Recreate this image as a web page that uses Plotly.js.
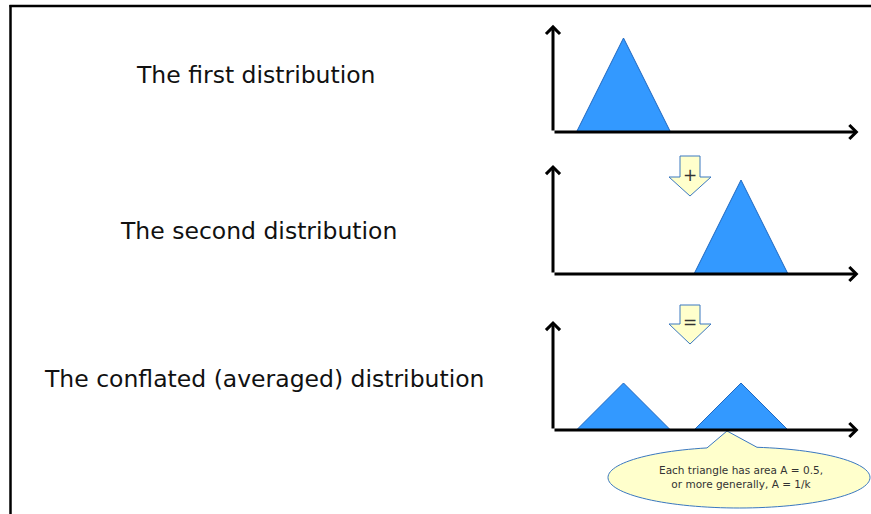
<!DOCTYPE html>
<html>
<head>
<meta charset="utf-8">
<script src="https://cdn.plot.ly/plotly-3.0.1.min.js"></script>
<style>html,body{margin:0;padding:0;background:#fff;}#chart{width:871px;height:514px;}</style>
</head>
<body>
<div id="chart"></div>
<script>
// ---- data ----
const panelLabels = ["The first distribution", "The second distribution", "The conflated (averaged) distribution"];
const operatorLabels = ["+", "="];
const calloutText = ["Each triangle has area A = 0.5,", "or more generally, A = 1/k"];

const dist1X = [0.5, 1.5, 2.5];
const dist1Y = [0, 1, 0];
const dist2X = [3, 4, 5];
const dist2Y = [0, 1, 0];
const conflLeftX = [0.5, 1.5, 2.5];
const conflLeftY = [0, 0.5, 0];
const conflRightX = [3, 4, 5];
const conflRightY = [0, 0.5, 0];

const axisXEnd = 6.5;
const axisYEnds = [1.14, 1.16, 1.16];

// ---- geometry helpers (page pixels -> paper) ----
const W = 871, H = 514;
const px = x => x / W;
const py = y => 1 - y / H;

const FILL = '#3399FF';
const EDGE = '#1F68C0';

function tri(x, y, xa, ya) {
  return {x: x.concat([x[0]]), y: y.concat([y[0]]), xaxis: xa, yaxis: ya, mode: 'lines', fill: 'toself',
    fillcolor: FILL, line: {color: EDGE, width: 1}, hoverinfo: 'skip', showlegend: false};
}

const traces = [
  tri(dist1X, dist1Y, 'x', 'y'),
  tri(dist2X, dist2Y, 'x2', 'y2'),
  tri(conflLeftX, conflLeftY, 'x3', 'y3'),
  tri(conflRightX, conflRightY, 'x3', 'y3')
];

const xRange = [0, (W - 553) / 47];
const yRange = [-0.1, 1.2];
const xDom = [553 / W, 1];
const yDoms = [[py(141.4), py(19.2)], [py(283.4), py(161.2)], [py(439.4), py(317.2)]];

function axisArrows(xr, yr, yEnd) {
  const base = {xref: xr, yref: yr, axref: xr, ayref: yr, text: '', showarrow: true,
    arrowhead: 4, arrowwidth: 3, arrowsize: 0.9, arrowcolor: '#000', ax: 0, ay: 0};
  return [Object.assign({}, base, {x: axisXEnd, y: 0}), Object.assign({}, base, {x: 0, y: yEnd})];
}

const annotations = [].concat(
  axisArrows('x', 'y', axisYEnds[0]),
  axisArrows('x2', 'y2', axisYEnds[1]),
  axisArrows('x3', 'y3', axisYEnds[2])
);

const labelPos = [[256, 75], [258.5, 231], [264, 379]];
panelLabels.forEach((t, i) => {
  annotations.push({xref: 'paper', yref: 'paper', x: px(labelPos[i][0]), y: py(labelPos[i][1]),
    xanchor: 'center', yanchor: 'middle', showarrow: false, text: t,
    font: {family: 'DejaVu Sans, Verdana, sans-serif', size: 23.5, color: '#111'}});
});

// block arrows
function blockArrow(top, headTop, tip) {
  const c = 690;
  const pts = [[680, top], [700, top], [700, headTop], [711, headTop], [c, tip], [669, headTop], [680, headTop]];
  return {type: 'path', xref: 'paper', yref: 'paper',
    path: 'M' + pts.map(p => px(p[0]) + ',' + py(p[1])).join(' L') + ' Z',
    fillcolor: '#FFFFCC', line: {color: '#3A78C0', width: 1}};
}
const opPos = [[690, 175], [690, 322]];
operatorLabels.forEach((t, i) => {
  annotations.push({xref: 'paper', yref: 'paper', x: px(opPos[i][0]), y: py(opPos[i][1]),
    xanchor: 'center', yanchor: 'middle', showarrow: false, text: t,
    font: {family: 'DejaVu Sans, sans-serif', size: 17, color: '#333'}});
});

// callout: ellipse with pointer, built as one outline
const cx = 739, cy = 477.5, rx = 131, ry = 30.5;
const leftBaseX = 707, rightBaseX = 757, tip = [727, 431];
function angAt(x) { return Math.atan2(-Math.sqrt(Math.max(0, 1 - Math.pow((x - cx) / rx, 2))), (x - cx) / rx); }
const aR = angAt(rightBaseX), aL = angAt(leftBaseX);
let outline = [[leftBaseX, cy + ry * Math.sin(aL)], tip, [rightBaseX, cy + ry * Math.sin(aR)]];
let a0 = aR, a1 = aL + 2 * Math.PI;
const N = 120;
for (let k = 1; k < N; k++) {
  const a = a0 + (a1 - a0) * k / N;
  outline.push([cx + rx * Math.cos(a), cy + ry * Math.sin(a)]);
}
const calloutShape = {type: 'path', xref: 'paper', yref: 'paper',
  path: 'M' + outline.map(p => px(p[0]).toFixed(5) + ',' + py(p[1]).toFixed(5)).join(' L') + ' Z',
  fillcolor: '#FFFFCC', line: {color: '#3A78C0', width: 1}};

annotations.push({xref: 'paper', yref: 'paper', x: px(741), y: py(476.5), xanchor: 'center', yanchor: 'middle',
  showarrow: false, text: calloutText.join('<br>'),
  font: {family: 'DejaVu Sans, Verdana, sans-serif', size: 10.5, color: '#333'}});

const shapes = [
  // frame
  {type: 'line', xref: 'paper', yref: 'paper', x0: px(10.5), x1: px(10.5), y0: py(5), y1: py(514), line: {color: '#000', width: 2.5}},
  {type: 'line', xref: 'paper', yref: 'paper', x0: px(9.5), x1: px(871), y0: py(6), y1: py(6), line: {color: '#000', width: 2.5}},
  blockArrow(156, 177, 196),
  blockArrow(305, 324, 344),
  calloutShape
];

const hidden = {visible: false, fixedrange: true};
const layout = {
  width: W, height: H, margin: {l: 0, r: 0, t: 0, b: 0},
  paper_bgcolor: '#fff', plot_bgcolor: 'rgba(0,0,0,0)', showlegend: false, hovermode: false,
  xaxis: Object.assign({}, hidden, {domain: xDom, range: xRange, anchor: 'y'}),
  yaxis: Object.assign({}, hidden, {domain: yDoms[0], range: yRange, anchor: 'x'}),
  xaxis2: Object.assign({}, hidden, {domain: xDom, range: xRange, anchor: 'y2'}),
  yaxis2: Object.assign({}, hidden, {domain: yDoms[1], range: yRange, anchor: 'x2'}),
  xaxis3: Object.assign({}, hidden, {domain: xDom, range: xRange, anchor: 'y3'}),
  yaxis3: Object.assign({}, hidden, {domain: yDoms[2], range: yRange, anchor: 'x3'}),
  annotations: annotations,
  shapes: shapes
};

Plotly.newPlot('chart', traces, layout, {displayModeBar: false, staticPlot: true});
</script>
</body>
</html>
